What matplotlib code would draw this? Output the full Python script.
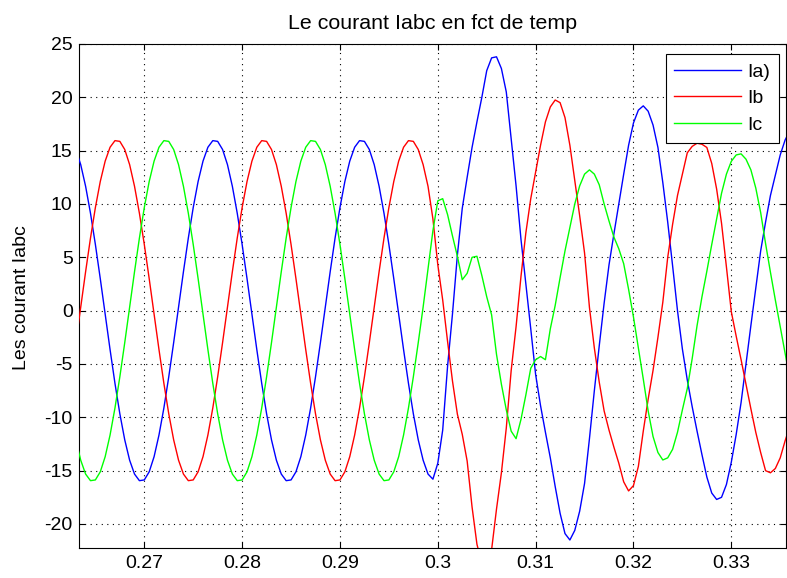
import matplotlib
matplotlib.use('Agg')
import matplotlib.pyplot as plt
import numpy as np

plt.rcParams['font.family'] = ['Liberation Sans', 'DejaVu Sans']

# sampling grid of the read values (s)
t_start = 0.2630
dt = 0.0005

ia = [15.11, 13.69, 11.66, 9.13, 6.20, 3.00, -0.34, -3.65, -6.81, -9.67,
      -12.11, -14.02, -15.32, -15.94, -15.87, -15.11, -13.69, -11.66, -9.13, -6.20,
      -3.00, 0.34, 3.65, 6.81, 9.67, 12.11, 14.02, 15.32, 15.94, 15.87,
      15.11, 13.69, 11.66, 9.13, 6.20, 3.00, -0.34, -3.65, -6.81, -9.67,
      -12.11, -14.02, -15.32, -15.94, -15.87, -15.11, -13.69, -11.66, -9.13, -6.20,
      -3.00, 0.34, 3.65, 6.81, 9.67, 12.11, 14.02, 15.32, 15.94, 15.87,
      15.11, 13.69, 11.66, 9.13, 6.20, 3.00, -0.34, -3.65, -6.81, -9.67,
      -12.11, -14.02, -15.32, -15.80, -14.3, -11.2, -5.2, -0.3, 5.2, 9.6,
      12.5, 15.3, 17.7, 20.0, 22.5, 23.7, 23.8, 22.7, 20.5, 16.1,
      11.7, 6.7, 2.5, -1.7, -6.0, -8.9, -11.4, -13.8, -16.5, -19.0,
      -20.9, -21.5, -20.6, -18.8, -16.2, -12.0, -7.5, -3.3, 0.7, 4.3,
      7.2, 10.0, 12.8, 15.5, 17.6, 18.8, 19.2, 18.7, 17.4, 15.3,
      12.0, 8.3, 4.2, 0.0, -3.6, -6.5, -9.0, -11.3, -13.5, -15.6,
      -17.1, -17.7, -17.5, -16.3, -14.2, -11.6, -8.6, -5.0, -1.4, 2.1,
      5.6, 8.3, 10.8, 12.7, 14.6, 16.0, 16.9]

ib = [-3.00, 0.34, 3.65, 6.81, 9.67, 12.11, 14.02, 15.32, 15.94, 15.87,
      15.11, 13.69, 11.66, 9.13, 6.20, 3.00, -0.34, -3.65, -6.81, -9.67,
      -12.11, -14.02, -15.32, -15.94, -15.87, -15.11, -13.69, -11.66, -9.13, -6.20,
      -3.00, 0.34, 3.65, 6.81, 9.67, 12.11, 14.02, 15.32, 15.94, 15.87,
      15.11, 13.69, 11.66, 9.13, 6.20, 3.00, -0.34, -3.65, -6.81, -9.67,
      -12.11, -14.02, -15.32, -15.94, -15.87, -15.11, -13.69, -11.66, -9.13, -6.20,
      -3.00, 0.34, 3.65, 6.81, 9.67, 12.11, 14.02, 15.32, 15.94, 15.87,
      15.11, 13.69, 11.66, 8.6, 4.3, 1.0, -2.9, -6.6, -9.7, -11.6,
      -14.1, -18.4, -21.9, -23.7, -23.9, -22.4, -18.6, -15.2, -11.0, -5.6,
      -1.5, 3.2, 7.3, 10.5, 13.0, 15.5, 17.7, 19.1, 19.75, 19.5,
      18.1, 15.5, 12.2, 8.9, 5.4, 0.3, -3.5, -6.7, -9.4, -11.2,
      -12.8, -14.3, -16.05, -16.9, -16.4, -14.6, -11.3, -8.3, -5.6, -2.5,
      0.8, 5.0, 8.1, 10.8, 12.8, 14.8, 15.4, 15.7, 15.6, 15.3,
      13.8, 11.4, 8.2, 4.1, -0.1, -2.4, -4.6, -6.9, -9.2, -11.4,
      -13.3, -15.0, -15.2, -14.8, -13.8, -12.2, -10.8]

ic = [-12.11, -14.02, -15.32, -15.94, -15.87, -15.11, -13.69, -11.66, -9.13, -6.20,
      -3.00, 0.34, 3.65, 6.81, 9.67, 12.11, 14.02, 15.32, 15.94, 15.87,
      15.11, 13.69, 11.66, 9.13, 6.20, 3.00, -0.34, -3.65, -6.81, -9.67,
      -12.11, -14.02, -15.32, -15.94, -15.87, -15.11, -13.69, -11.66, -9.13, -6.20,
      -3.00, 0.34, 3.65, 6.81, 9.67, 12.11, 14.02, 15.32, 15.94, 15.87,
      15.11, 13.69, 11.66, 9.13, 6.20, 3.00, -0.34, -3.65, -6.81, -9.67,
      -12.11, -14.02, -15.32, -15.94, -15.87, -15.11, -13.69, -11.66, -9.13, -6.20,
      -3.00, 0.34, 3.9, 7.5, 10.3, 10.5, 9.0, 7.0, 5.1, 2.9,
      3.5, 5.0, 5.1, 3.3, 1.3, -0.4, -4.1, -6.9, -9.3, -11.3,
      -12.0, -10.2, -7.9, -5.4, -4.6, -4.3, -4.6, -1.7, 0.5, 3.1,
      5.6, 7.8, 10.0, 11.7, 12.8, 13.2, 12.8, 11.8, 10.0, 8.4,
      6.9, 5.8, 4.4, 2.0, -0.6, -3.5, -6.4, -9.4, -11.8, -13.3,
      -14.0, -13.8, -13.0, -11.4, -9.3, -7.3, -4.5, -1.4, 1.3, 3.7,
      6.2, 8.6, 11.0, 12.8, 14.0, 14.6, 14.7, 14.2, 13.2, 11.5,
      9.2, 6.3, 3.6, 1.0, -1.5, -4.0, -6.5]

series_labels = ['Ia)', 'Ib', 'Ic']
xticks = [0.27, 0.28, 0.29, 0.30, 0.31, 0.32, 0.33]
xtick_labels = ['0.27', '0.28', '0.29', '0.3', '0.31', '0.32', '0.33']
yticks = [-20, -15, -10, -5, 0, 5, 10, 15, 20, 25]
ytick_labels = ['-20', '-15', '-10', '-5', '0', '5', '10', '15', '20', '25']
title = 'Le courant Iabc en fct de temp'
ylabel = 'Les courant Iabc'

t = t_start + dt * np.arange(len(ia))

W, H = 787, 578
fig = plt.figure(figsize=(W / 100, H / 100), dpi=100)
fig.patch.set_facecolor('white')
ax = fig.add_axes([79 / W, 1 - 548.3 / H, 707 / W, 504.3 / H])

colors = ['#0000ff', '#ff0000', '#00ff00']
for y, c, lab in zip([ia, ib, ic], colors, series_labels):
    ax.plot(t, y, color=c, lw=1.0, label=lab, zorder=3)

ax.set_xlim(0.263325, 0.33559)
ax.set_ylim(-22.28, 25)
ax.set_xticks(xticks)
ax.set_xticklabels(xtick_labels)
ax.set_yticks(yticks)
ax.set_yticklabels(ytick_labels)
ax.grid(True, color='black', linestyle=(0, (1, 4)), linewidth=0.8, zorder=1)
ax.tick_params(direction='in', length=4.5, width=0.8, top=True, right=True,
               labelsize=14, colors='black')
ax.tick_params(axis='x', pad=5)
ax.tick_params(axis='y', pad=4.5)
for s in ax.spines.values():
    s.set_linewidth(0.8)
    s.set_color('black')

ax.set_title(title, fontsize=15.4, pad=10.5)
fig.text(21.5 / W, 1 - 297.5 / H, ylabel, rotation=90, ha='center', va='center',
         fontsize=14)

leg = ax.legend(loc='upper right',
                bbox_to_anchor=((779 - 79) / 707, (548.3 - 54.3) / 504.3),
                borderaxespad=0, fontsize=14, handlelength=3.4,
                handletextpad=0.35, borderpad=0.45, labelspacing=0.46,
                fancybox=False, framealpha=1, edgecolor='black')
leg.get_frame().set_linewidth(0.8)

fig.savefig('out.png', dpi=100)
